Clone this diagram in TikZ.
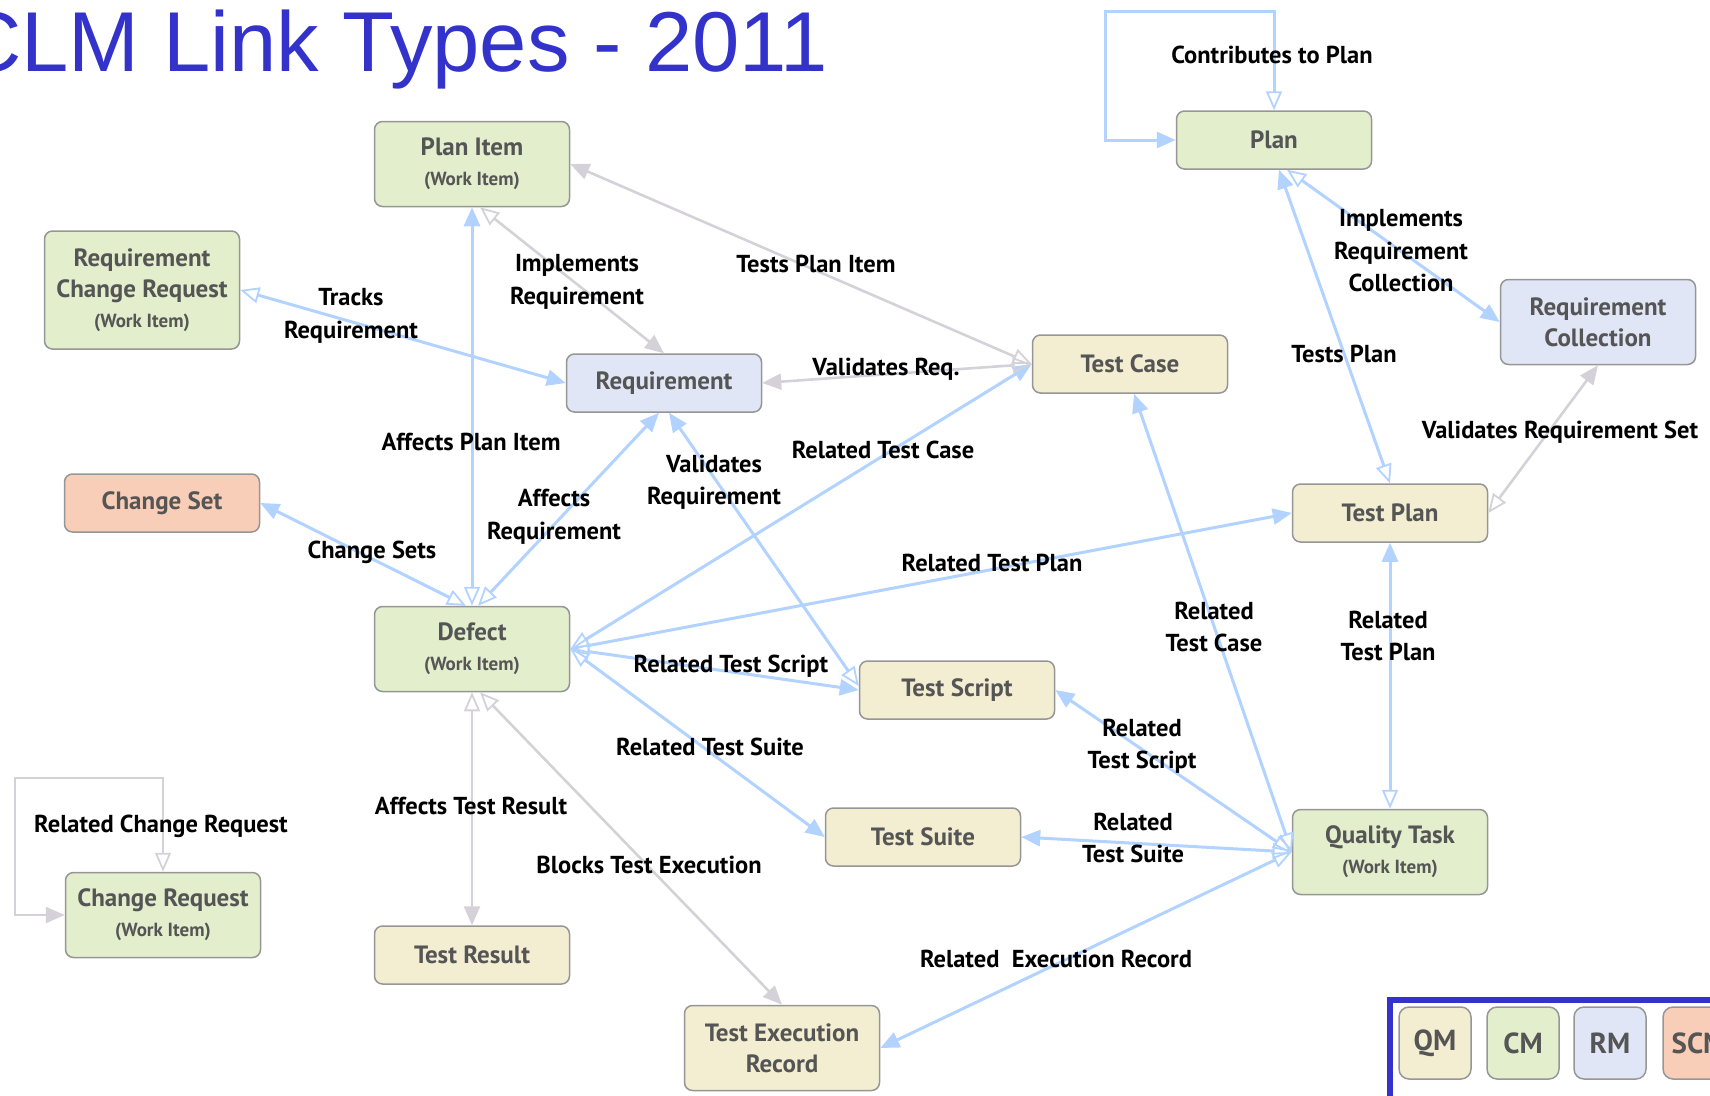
\documentclass[tikz,border=0pt]{standalone}
\usepackage{fontspec}
\setmainfont{PT Sans}
\newfontfamily\titlefont{Liberation Sans}
\usetikzlibrary{arrows.meta}
\definecolor{cmgreen}{RGB}{226,238,204}
\definecolor{qmyellow}{RGB}{243,238,210}
\definecolor{rmblue}{RGB}{225,230,247}
\definecolor{scmorange}{RGB}{248,206,184}
\definecolor{boxline}{RGB}{150,150,150}
\definecolor{boxtext}{RGB}{85,85,85}
\definecolor{bluelink}{RGB}{178,210,255}
\definecolor{graylink}{RGB}{212,210,216}
\definecolor{titleblue}{RGB}{51,51,204}

\begin{document}
\begin{tikzpicture}[x=1pt,y=-1pt,
  every node/.style={font=\fontsize{24.5}{32.5}\selectfont\bfseries},
  box/.style={draw=boxline,line width=1.5pt,rounded corners=8pt,minimum width=195pt,
    minimum height=58pt,text=boxtext,align=center,inner sep=0pt,
    font=\fontsize{25}{31}\selectfont\bfseries},
  cmbox/.style={box,fill=cmgreen},
  qmbox/.style={box,fill=qmyellow},
  rmbox/.style={box,fill=rmblue},
  scmbox/.style={box,fill=scmorange},
  lbl/.style={align=center,inner sep=0pt,text=black},
  key/.style={box,minimum width=72pt,minimum height=72pt,rounded corners=10pt,
    font=\fontsize{29}{29}\selectfont\bfseries},
  bl/.style={draw=bluelink,line width=3pt,
    arrows={Triangle[open,length=19pt,width=16pt,line width=1.8pt]-Triangle[length=19pt,width=16pt]}},
  gl/.style={bl,draw=graylink,line width=2.6pt}]
\useasboundingbox (0,0) rectangle (1710,1095);
\clip (0,0) rectangle (1710,1095);
\newcommand{\wi}{\\[-1pt]{\fontsize{19}{22}\selectfont(Work Item)}}

\node[anchor=base west,inner sep=0pt,text=titleblue,font=\titlefont\fontsize{85}{85}\selectfont] (title) at (-40,71) {CLM Link Types - 2011};

\node[cmbox,minimum height=85pt] (planitem) at (472,164) {Plan Item\wi};
\node[cmbox,minimum height=118pt] (rcr) at (142,290) {Requirement\\Change Request\wi};
\node[rmbox] (req) at (664,383) {Requirement};
\node[qmbox] (testcase) at (1130,364) {Test Case};
\node[cmbox] (plan) at (1274,140) {Plan};
\node[rmbox,minimum height=85pt] (reqcoll) at (1598,322) {Requirement\\Collection};
\node[scmbox] (changeset) at (162,503) {Change Set};
\node[qmbox] (testplan) at (1390,513) {Test Plan};
\node[cmbox,minimum height=85pt] (defect) at (472,649) {Defect\wi};
\node[qmbox] (tscript) at (957,690) {Test Script};
\node[qmbox] (tsuite) at (923,837) {Test Suite};
\node[cmbox,minimum height=85pt] (qt) at (1390,852) {Quality Task\wi};
\node[cmbox,minimum height=85pt] (cr) at (163,915) {Change Request\wi};
\node[qmbox] (tresult) at (472,955) {Test Result};
\node[qmbox,minimum height=85pt] (ter) at (782,1048) {Test Execution\\Record};

\draw[bl] (defect.north) -- (planitem.south);
\draw[bl] ([xshift=6pt]defect.north) -- ([xshift=-5pt]req.south);
\draw[bl] ([xshift=-6pt]defect.north) -- (changeset.east);
\draw[bl] (rcr.east) -- (req.west);
\draw[bl] ([yshift=4pt]tscript.west) -- ([xshift=5pt]req.south);
\draw[bl] (defect.east) -- (testcase.west);
\draw[bl] (defect.east) -- (testplan.west);
\draw[bl] (defect.east) -- (tscript.west);
\draw[bl] (defect.east) -- (tsuite.west);
\draw[bl] (qt.north) -- (testplan.south);
\draw[bl] (qt.west) -- ([xshift=4pt]testcase.south);
\draw[bl] (qt.west) -- (tscript.east);
\draw[bl] (qt.west) -- (tsuite.east);
\draw[bl] (qt.west) -- (ter.east);
\draw[bl] ([xshift=13pt]plan.south) -- (reqcoll.west);
\draw[bl] (testplan.north) -- ([xshift=5pt]plan.south);
\draw[bl] (plan.north) -- (plan.north |- 0,11) -- (1105,11) |- (plan.west);

\draw[gl] (testcase.west) -- (planitem.east);
\draw[gl] ([xshift=8pt]planitem.south) -- (req.north);
\draw[gl] (testcase.west) -- (req.east);
\draw[gl] (testplan.east) -- (reqcoll.south);
\draw[gl] (defect.south) -- (tresult.north);
\draw[gl] ([xshift=8pt]defect.south) -- (ter.north);
\draw[gl] (cr.north) -- (cr.north |- 0,778) -- (15,778) |- (cr.west);

\node[lbl] (l1) at (1272,55) {Contributes to Plan};
\node[lbl] (l2) at (1401,251) {Implements\\Requirement\\Collection};
\node[lbl] (l3) at (1344,354) {Tests Plan};
\node[lbl] (l4) at (1560,432) {Validates Requirement Set};
\node[lbl] (l5) at (816,264) {Tests Plan Item};
\node[lbl] (l6) at (577,282) {Implements\\Requirement};
\node[lbl] (l7) at (351,316) {Tracks\\Requirement};
\node[lbl] (l8) at (886,369) {Validates Req.};
\node[lbl] (l9) at (471,442) {Affects Plan Item};
\node[lbl] (l10) at (883,450) {Related Test Case};
\node[lbl] (l11) at (714,482) {Validates\\Requirement};
\node[lbl] (l12) at (554,517) {Affects\\Requirement};
\node[lbl] (l13) at (372,552) {Change Sets};
\node[lbl] (l14) at (992,563) {Related Test Plan};
\node[lbl] (l15) at (1214,627) {Related\\Test Case};
\node[lbl] (l16) at (1388,636) {Related\\Test Plan};
\node[lbl] (l17) at (731,666) {Related Test Script};
\node[lbl] (l18) at (1142,746) {Related\\Test Script};
\node[lbl] (l19) at (710,747) {Related Test Suite};
\node[lbl] (l20) at (471,806) {Affects Test Result};
\node[lbl] (l21) at (161,826) {Related Change Request};
\node[lbl] (l22) at (1133,838) {Related\\Test Suite};
\node[lbl] (l23) at (649,865) {Blocks Test Execution};
\node[lbl] (l24) at (1056,959) {Related~ Execution Record};

\draw[titleblue,line width=6pt] (1390,1000) rectangle (1780,1160);
\node[key,fill=qmyellow] (qmkey) at (1435,1043) {QM};
\node[key,fill=cmgreen] (cmkey) at (1523,1043) {CM};
\node[key,fill=rmblue] (rmkey) at (1610,1043) {RM};
\node[key,fill=scmorange] (scmkey) at (1699,1043) {SCM};
\end{tikzpicture}
\end{document}
